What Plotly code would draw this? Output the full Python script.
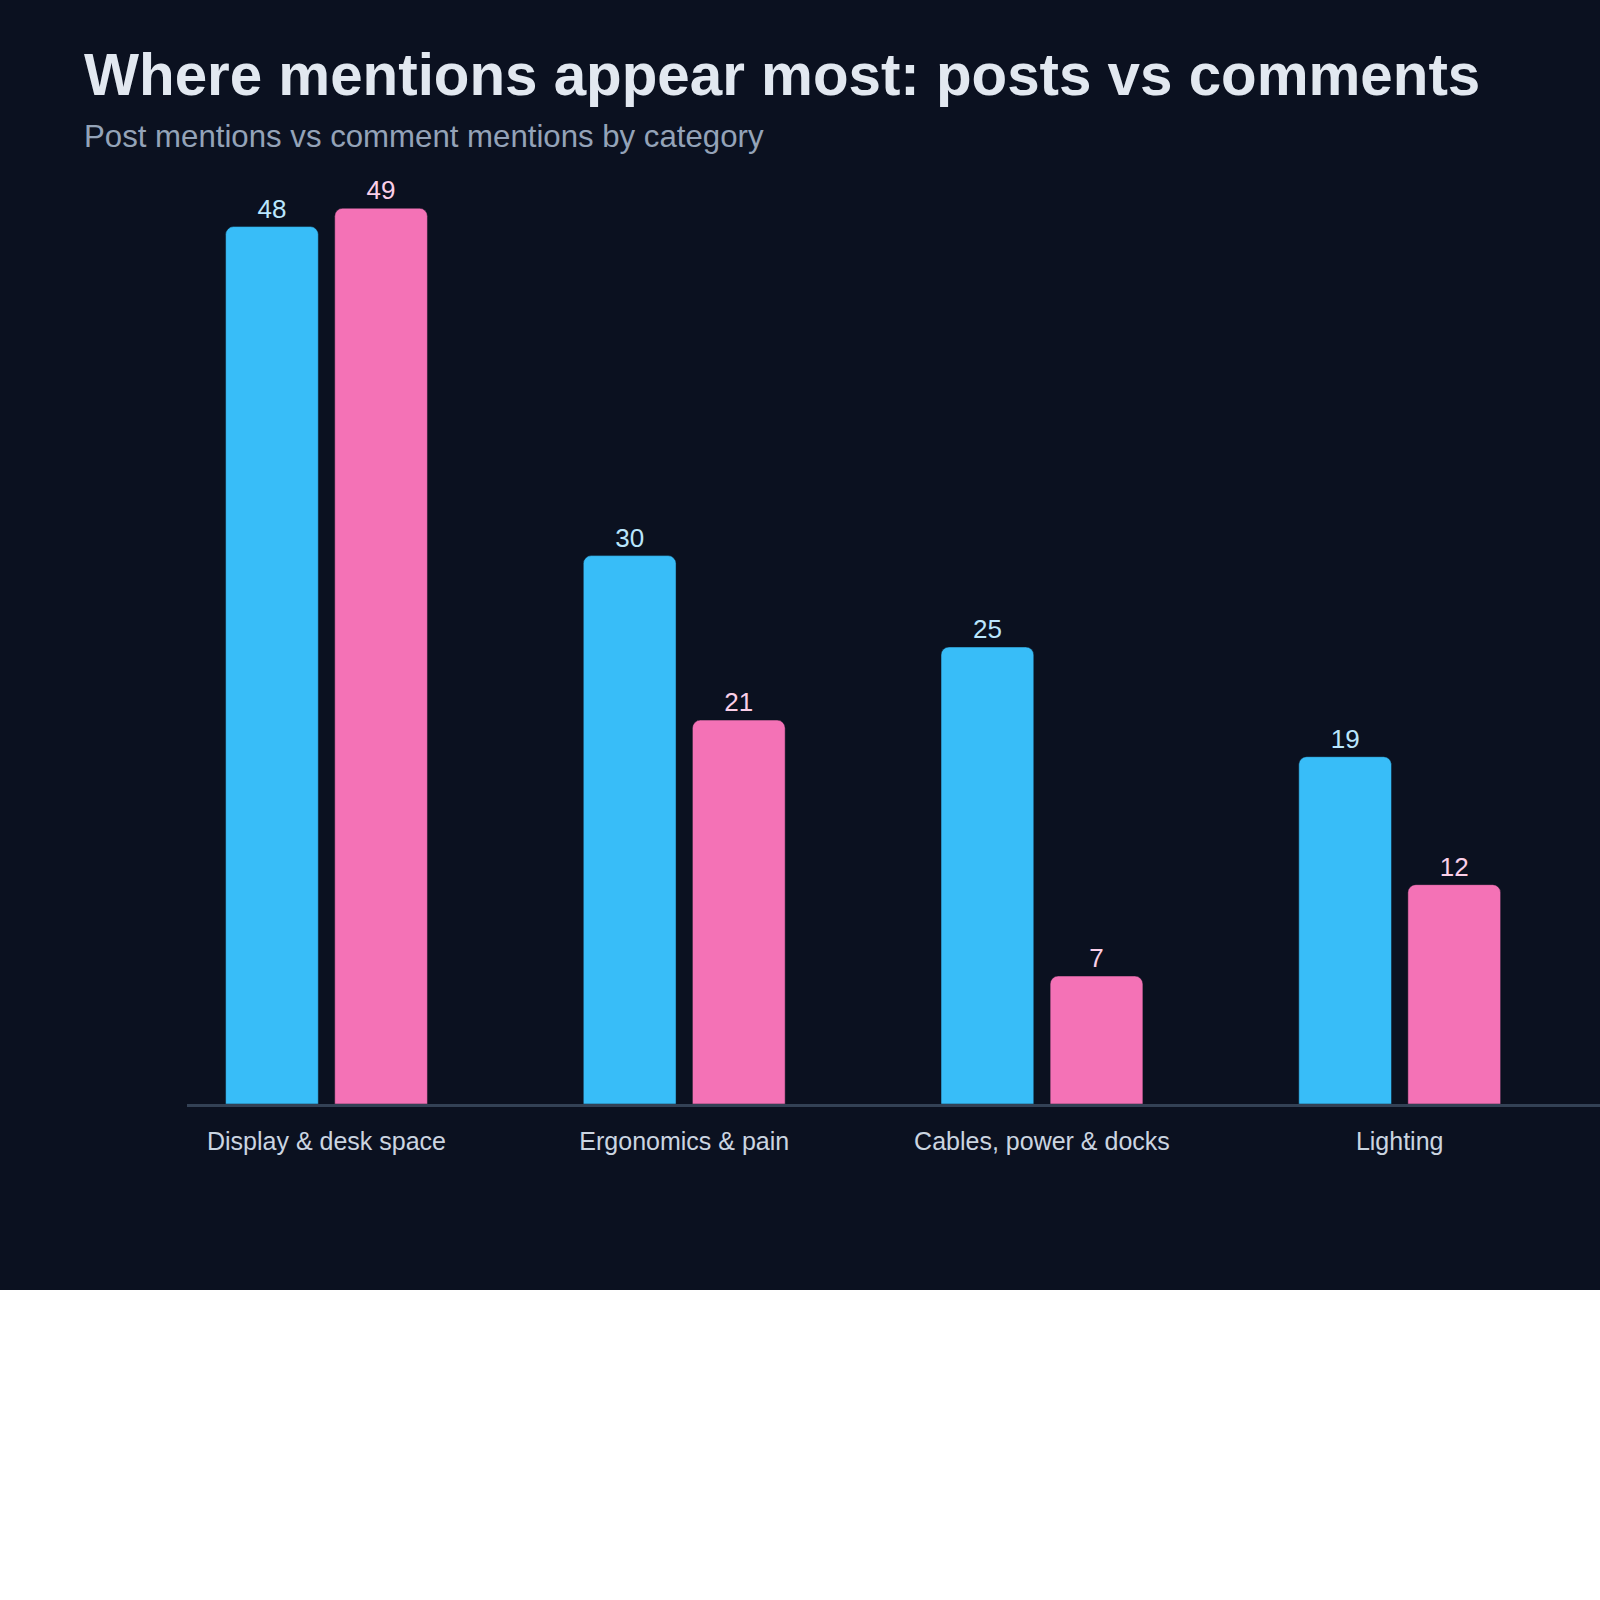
import plotly.graph_objects as go

categories = ["Display & desk space", "Ergonomics & pain", "Cables, power & docks", "Lighting"]
post_mentions = [48, 30, 25, 19]
comment_mentions = [49, 21, 7, 12]

BG = "#0B1120"
FONT = "Liberation Sans, Arial, sans-serif"
EDGE = "rgba(11,17,32,0.45)"

fig = go.Figure()
fig.add_trace(go.Bar(
    x=categories, y=post_mentions, name="Post mentions",
    marker=dict(color="#38BDF8", line=dict(width=1, color=EDGE)),
    text=post_mentions, textposition="outside",
    textfont=dict(color="#BAE6FD", size=26, family=FONT),
    cliponaxis=False,
))
fig.add_trace(go.Bar(
    x=categories, y=comment_mentions, name="Comment mentions",
    marker=dict(color="#F472B6", line=dict(width=1, color=EDGE)),
    text=comment_mentions, textposition="outside",
    textfont=dict(color="#FBCFE8", size=26, family=FONT),
    cliponaxis=False,
))

fig.update_layout(
    width=1600,
    height=1290,
    paper_bgcolor=BG,
    plot_bgcolor=BG,
    margin=dict(l=187, r=0, t=160, b=186),
    barmode="group",
    bargap=0.39,
    bargroupgap=0.15,
    barcornerradius=8,
    showlegend=False,
    font=dict(family=FONT, color="#CBD5E1"),
    title=dict(
        text="<b>Where mentions appear most: posts vs comments</b>",
        font=dict(size=58.3, color="#E2E8F0", family=FONT),
        xref="container", yref="container",
        x=84 / 1600, xanchor="left",
        y=1 - 75 / 1290, yanchor="middle",
    ),
    annotations=[dict(
        text="Post mentions vs comment mentions by category",
        xref="paper", yref="paper",
        x=(82 - 187) / 1413, xanchor="left",
        y=(1104 - 136) / 944, yanchor="middle",
        showarrow=False,
        font=dict(size=31.2, color="#94A3B8", family=FONT),
    )],
)
fig.update_xaxes(
    range=[-0.39, 3.56],
    showline=True, linecolor="#334155", linewidth=3,
    showgrid=False, zeroline=False, ticks="",
    ticklabelstandoff=13,
    tickfont=dict(size=25, color="#CBD5E1", family=FONT),
)
fig.update_yaxes(
    range=[0, 944 / 18.28],
    visible=False, showgrid=False, zeroline=False,
)

fig.write_html(
    "out.html",
    config={"displayModeBar": False},
    post_script="document.body.style.margin = '0';",
)
